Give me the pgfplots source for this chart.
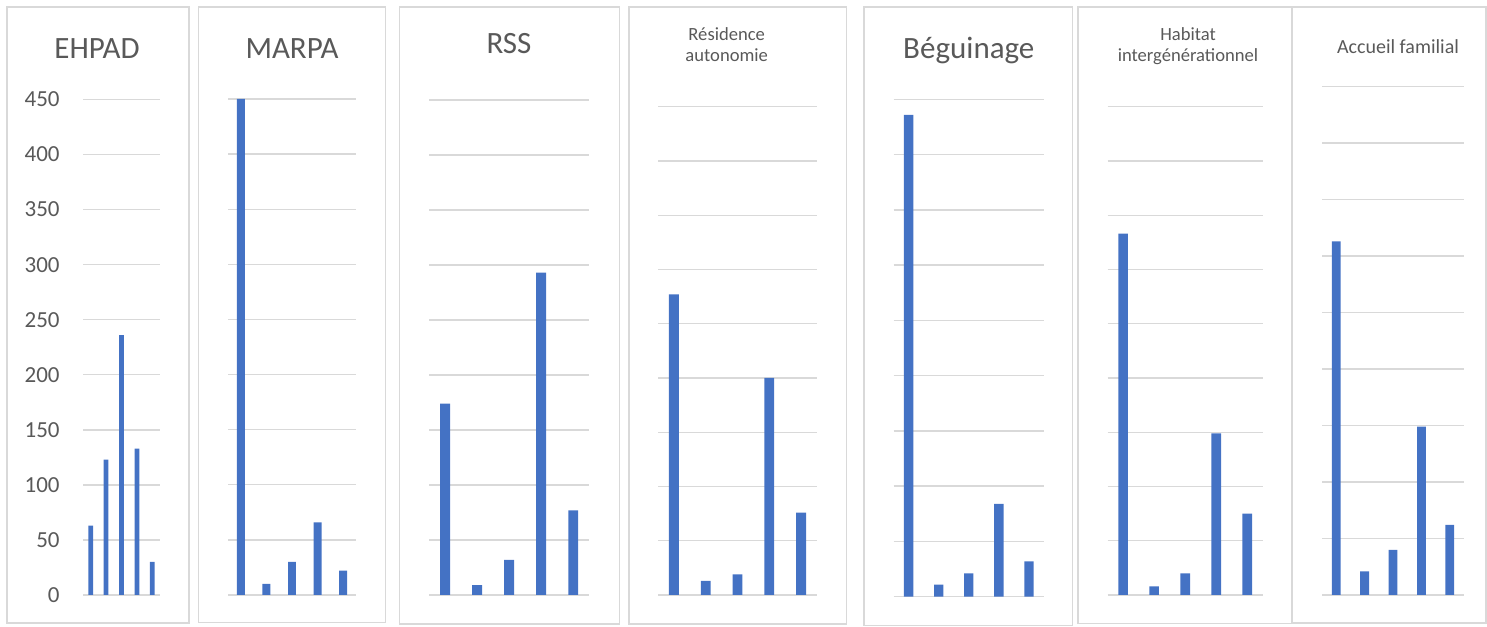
\documentclass[border=0pt]{standalone}
\usepackage{fontspec}
\setmainfont{Carlito}
\usepackage{pgfplots}
\pgfplotsset{compat=1.18}
\definecolor{barblue}{HTML}{4472C4}
\definecolor{gridgray}{HTML}{D9D9D9}
\definecolor{txtgray}{HTML}{595959}
\pgfplotsset{
  panel/.style={
    scale only axis, anchor=south west,
    xmin=0.5, xmax=5.5, ymin=0, ymax=450,
    enlargelimits=false, clip=false,
    ytick={0,50,...,450}, xtick=\empty,
    yticklabels=\empty,
    ymajorgrids, grid style={draw=gridgray, line width=0.7pt},
    axis line style={draw=none}, major tick length=0pt,
    ybar, bar width=0.31,
    cycle list={{fill=barblue, draw=none}},
  },
}
\begin{document}
\begin{tikzpicture}
\useasboundingbox (0,0) rectangle (743.5pt,313pt);
% frames
\begin{scope}[draw=gridgray, line width=0.6pt]
\draw (3.5pt,1.5pt) rectangle (94.5pt,309.5pt);
\draw (99.35pt,1.65pt) rectangle (192.85pt,309.5pt);
\draw (199.65pt,1pt) rectangle (309.65pt,309.5pt);
\draw (314.5pt,1pt) rectangle (423.35pt,309.5pt);
\draw (432pt,0.4pt) rectangle (536.4pt,309.5pt);
\draw (539pt,1.35pt) rectangle (646pt,309.5pt);
\draw (646pt,1.5pt) rectangle (743pt,309.5pt);
\end{scope}

% EHPAD
\begin{axis}[panel, at={(41.5pt,15.5pt)}, width=38.5pt, height=247.75pt,
  yticklabels={0,50,100,150,200,250,300,350,400,450},
  yticklabel style={font=\fontsize{11.5}{12}\selectfont, text=txtgray, anchor=east, inner sep=0pt, xshift=-11.5pt},
  /pgf/number format/assume math mode=true]
\addplot[fill=barblue, draw=none] coordinates {(1,63) (2,123) (3,236) (4,133) (5,30)};
\end{axis}
% MARPA
\begin{axis}[panel, at={(114pt,15.5pt)}, width=64pt, height=248pt]
\addplot[fill=barblue, draw=none] coordinates {(1,450) (2,10) (3,30) (4,66) (5,22)};
\end{axis}
% RSS
\begin{axis}[panel, at={(214.5pt,15.5pt)}, width=80.15pt, height=247.5pt]
\addplot[fill=barblue, draw=none] coordinates {(1,174) (2,9) (3,32) (4,293) (5,77)};
\end{axis}
% Residence autonomie
\begin{axis}[panel, at={(329pt,15.5pt)}, width=79.5pt, height=244.15pt]
\addplot[fill=barblue, draw=none] coordinates {(1,277) (2,13) (3,19) (4,200) (5,76)};
\end{axis}
% Beguinage
\begin{axis}[panel, at={(446.8pt,14.65pt)}, width=75.2pt, height=248.7pt]
\addplot[fill=barblue, draw=none] coordinates {(1,436) (2,11) (3,21) (4,84) (5,32)};
\end{axis}
% Habitat intergenerationnel
\begin{axis}[panel, at={(553.8pt,15.5pt)}, width=77.6pt, height=244.15pt]
\addplot[fill=barblue, draw=none] coordinates {(1,333) (2,8) (3,20) (4,149) (5,75)};
\end{axis}
% Accueil familial
\begin{axis}[panel, at={(661pt,15.5pt)}, width=71pt, height=254.15pt]
\addplot[fill=barblue, draw=none] coordinates {(1,313) (2,21) (3,40) (4,149) (5,62)};
\end{axis}

% titles
\begin{scope}[text=txtgray, inner sep=0pt]
\node[anchor=base, font=\fontsize{15.5}{18}\selectfont] at (48.5pt,283.85pt) {EHPAD};
\node[anchor=base, font=\fontsize{15.5}{18}\selectfont] at (146pt,283.85pt) {MARPA};
\node[anchor=base, font=\fontsize{15.5}{18}\selectfont] at (254.5pt,286.35pt) {RSS};
\node[anchor=base, font=\fontsize{9.3}{11}\selectfont] at (363.35pt,292.65pt) {Résidence};
\node[anchor=base, font=\fontsize{9.3}{11}\selectfont] at (363.35pt,282.15pt) {autonomie};
\node[anchor=base, font=\fontsize{15.5}{18}\selectfont] at (484.4pt,283.85pt) {Béguinage};
\node[anchor=base, font=\fontsize{9.3}{11}\selectfont] at (594pt,292.65pt) {Habitat};
\node[anchor=base, font=\fontsize{9.3}{11}\selectfont] at (594pt,282.15pt) {intergénérationnel};
\node[anchor=base, font=\fontsize{10}{12}\selectfont] at (699pt,286.35pt) {Accueil familial};
\end{scope}
\end{tikzpicture}
\end{document}
